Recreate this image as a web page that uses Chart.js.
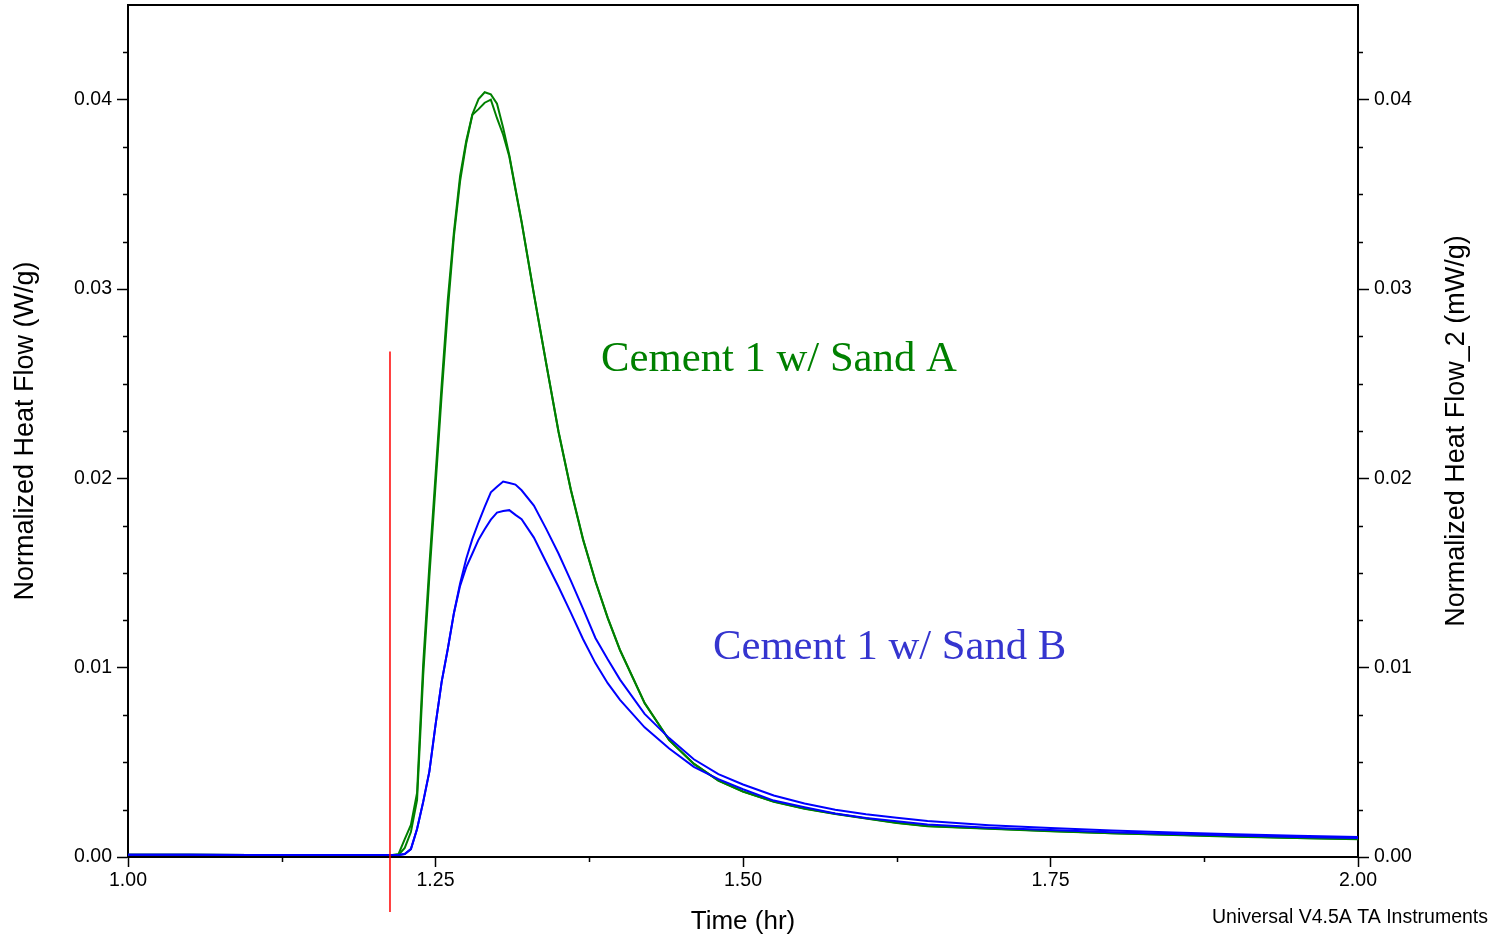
<!DOCTYPE html>
<html>
<head>
<meta charset="utf-8">
<script src="https://cdn.jsdelivr.net/npm/chart.js@4.4.0/dist/chart.umd.min.js"></script>
<style>
  html, body { margin: 0; padding: 0; background: #fff; }
</style>
</head>
<body>
<canvas id="heat-flow-chart" width="1493" height="938"></canvas>
<script>
// sample times (hr) shared by all four runs
const timeHr = [
  1.00, 1.05, 1.10, 1.15, 1.20, 1.215, 1.22, 1.225, 1.23, 1.235,
  1.24, 1.245, 1.25, 1.255, 1.26, 1.265, 1.27, 1.275, 1.28, 1.285,
  1.29, 1.295, 1.30, 1.305, 1.31, 1.315, 1.32, 1.33, 1.34, 1.35,
  1.36, 1.37, 1.38, 1.39, 1.40, 1.42, 1.44, 1.46, 1.48, 1.50,
  1.525, 1.55, 1.575, 1.60, 1.625, 1.65, 1.70, 1.75, 1.80, 1.85,
  1.90, 1.95, 2.00
];

// Cement 1 w/ Sand A, two runs (W/g)
const sandA1 = [
  0.00012, 0.00012, 0.00011, 0.00010, 0.00010, 0.00010, 0.00016, 0.00094, 0.00169, 0.00338,
  0.01020, 0.01538, 0.02013, 0.02492, 0.02943, 0.03303, 0.03598, 0.03783, 0.03923, 0.04003,
  0.04039, 0.04028, 0.03979, 0.03852, 0.03707, 0.03531, 0.03357, 0.02975, 0.02608, 0.02249,
  0.01942, 0.01678, 0.01458, 0.01264, 0.01094, 0.00814, 0.00618, 0.00493, 0.00404, 0.00346,
  0.00293, 0.00256, 0.00228, 0.00204, 0.00181, 0.00164, 0.00150, 0.00137, 0.00126, 0.00117,
  0.00109, 0.00101, 0.00095
];
const sandA2 = [
  0.00012, 0.00012, 0.00011, 0.00010, 0.00010, 0.00010, 0.00012, 0.00048, 0.00132, 0.00300,
  0.00960, 0.01480, 0.01960, 0.02440, 0.02890, 0.03280, 0.03570, 0.03770, 0.03920, 0.03950,
  0.03984, 0.04000, 0.03902, 0.03815, 0.03700, 0.03525, 0.03352, 0.02972, 0.02605, 0.02245,
  0.01938, 0.01675, 0.01455, 0.01262, 0.01092, 0.00812, 0.00617, 0.00492, 0.00403, 0.00345,
  0.00292, 0.00255, 0.00227, 0.00203, 0.00180, 0.00163, 0.00149, 0.00136, 0.00125, 0.00116,
  0.00107, 0.00100, 0.00094
];

// Cement 1 w/ Sand B, two runs (W/g)
const sandB1 = [
  0.00012, 0.00012, 0.00011, 0.00011, 0.00010, 0.00010, 0.00010, 0.00016, 0.00042, 0.00148,
  0.00291, 0.00451, 0.00697, 0.00925, 0.01099, 0.01289, 0.01445, 0.01575, 0.01680, 0.01768,
  0.01849, 0.01926, 0.01955, 0.01983, 0.01975, 0.01967, 0.01937, 0.01856, 0.01733, 0.01603,
  0.01460, 0.01310, 0.01157, 0.01044, 0.00937, 0.00756, 0.00628, 0.00516, 0.00438, 0.00383,
  0.00325, 0.00283, 0.00250, 0.00226, 0.00207, 0.00190, 0.00168, 0.00153, 0.00140, 0.00129,
  0.00120, 0.00112, 0.00106
];
const sandB2 = [
  0.00012, 0.00012, 0.00011, 0.00011, 0.00010, 0.00010, 0.00010, 0.00016, 0.00042, 0.00148,
  0.00291, 0.00451, 0.00697, 0.00925, 0.01099, 0.01289, 0.01432, 0.01531, 0.01603, 0.01676,
  0.01731, 0.01782, 0.01819, 0.01827, 0.01832, 0.01807, 0.01784, 0.01687, 0.01557, 0.01427,
  0.01291, 0.01150, 0.01024, 0.00918, 0.00830, 0.00685, 0.00573, 0.00476, 0.00411, 0.00358,
  0.00298, 0.00263, 0.00230, 0.00206, 0.00189, 0.00172, 0.00154, 0.00142, 0.00131, 0.00122,
  0.00114, 0.00106, 0.00100
];

// red marker line
const markerTime = [1.213, 1.213];
const markerFlow = [-0.0029, 0.0267];

// axis ranges / ticks
const xTicks = [1.00, 1.25, 1.50, 1.75, 2.00];
const yTicks = [0.00, 0.01, 0.02, 0.03, 0.04];
const yMax = 0.045;

const seriesLabels = ['Cement 1 w/ Sand A', 'Cement 1 w/ Sand B'];

const GREEN = '#008000';
const BLUE = '#0000ff';
const SANS = '"Liberation Sans", Arial, sans-serif';
const SERIF = '"Liberation Serif", "Times New Roman", serif';

const toPoints = (xs, ys) => xs.map((x, i) => ({ x, y: ys[i] }));

// minor ticks, box top edge and all free text
const decorations = {
  id: 'decorations',
  afterDraw(chart) {
    const { ctx, chartArea: a, scales: { x, y } } = chart;
    ctx.save();
    ctx.strokeStyle = '#000';
    ctx.lineWidth = 1.5;
    ctx.beginPath();
    for (let v = 0.0025; v < yMax; v += 0.0025) {
      if (Math.abs(v * 100 - Math.round(v * 100)) < 1e-6) continue;
      const py = Math.round(y.getPixelForValue(v)) + 0.5;
      ctx.moveTo(a.left - 5, py); ctx.lineTo(a.left, py);
      ctx.moveTo(a.right, py); ctx.lineTo(a.right + 5, py);
    }
    for (let t = 1.125; t < 2; t += 0.25) {
      const px = Math.round(x.getPixelForValue(t)) + 0.5;
      ctx.moveTo(px, a.bottom); ctx.lineTo(px, a.bottom + 5);
    }
    ctx.stroke();

    ctx.lineWidth = 2;
    ctx.beginPath();
    ctx.moveTo(a.left, a.top); ctx.lineTo(a.right, a.top);
    ctx.stroke();

    // axis titles
    ctx.fillStyle = '#000';
    ctx.textAlign = 'center';
    ctx.textBaseline = 'middle';
    ctx.font = '27px ' + SANS;
    ctx.save();
    ctx.translate(26, (a.top + a.bottom) / 2);
    ctx.rotate(-Math.PI / 2);
    ctx.fillText('Normalized Heat Flow (W/g)', 0, 0);
    ctx.restore();
    ctx.save();
    ctx.translate(1457, (a.top + a.bottom) / 2);
    ctx.rotate(-Math.PI / 2);
    ctx.fillText('Normalized Heat Flow_2 (mW/g)', 0, 0);
    ctx.restore();
    ctx.font = '26px ' + SANS;
    ctx.fillText('Time (hr)', (a.left + a.right) / 2, 922);

    ctx.font = '19.5px ' + SANS;
    ctx.textAlign = 'right';
    ctx.fillText('Universal V4.5A TA Instruments', 1488, 918);

    // curve labels, anchored in data units
    ctx.font = '42.7px ' + SERIF;
    ctx.textAlign = 'left';
    ctx.textBaseline = 'alphabetic';
    ctx.fillStyle = GREEN;
    ctx.fillText(seriesLabels[0], x.getPixelForValue(1.3846), y.getPixelForValue(0.02568));
    ctx.fillStyle = '#3535cf';
    ctx.fillText(seriesLabels[1], x.getPixelForValue(1.4756), y.getPixelForValue(0.01046));
    ctx.restore();
  }
};

function lineSet(label, xs, ys, color, width) {
  return {
    label,
    data: toPoints(xs, ys),
    borderColor: color,
    borderWidth: width,
    pointRadius: 0,
    tension: 0,
    fill: false
  };
}

const yTickCommon = {
  min: 0,
  max: yMax,
  afterBuildTicks: scale => { scale.ticks = yTicks.map(v => ({ value: v })); },
  ticks: {
    callback: v => v.toFixed(2),
    color: '#000',
    padding: 5,
    font: { family: SANS, size: 19.5 }
  },
  grid: { drawOnChartArea: false, tickLength: 11, tickColor: '#000', tickWidth: 1.5 },
  border: { display: true, color: '#000', width: 2 }
};

const ctx = document.getElementById('heat-flow-chart').getContext('2d');
new Chart(ctx, {
  type: 'line',
  data: {
    datasets: [
      Object.assign(lineSet('marker', markerTime, markerFlow, '#ff0000', 1.5), { clip: false }),
      lineSet(seriesLabels[1] + ' (1)', timeHr, sandB1, BLUE, 2),
      lineSet(seriesLabels[1] + ' (2)', timeHr, sandB2, BLUE, 2),
      lineSet(seriesLabels[0] + ' (1)', timeHr, sandA1, GREEN, 2),
      lineSet(seriesLabels[0] + ' (2)', timeHr, sandA2, GREEN, 2)
    ]
  },
  options: {
    responsive: false,
    animation: false,
    layout: { padding: { top: 5, left: 0, right: 0, bottom: 0 } },
    plugins: {
      legend: { display: false },
      tooltip: { enabled: false }
    },
    scales: {
      x: {
        type: 'linear',
        position: 'bottom',
        min: 1,
        max: 2,
        afterBuildTicks: scale => { scale.ticks = xTicks.map(v => ({ value: v })); },
        afterFit: scale => { scale.height = 81; scale.paddingLeft = 0; scale.paddingRight = 0; },
        ticks: {
          callback: v => v.toFixed(2),
          color: '#000',
          padding: 2,
          maxRotation: 0,
          font: { family: SANS, size: 19.5 }
        },
        grid: { drawOnChartArea: false, tickLength: 10, tickColor: '#000', tickWidth: 1.5 },
        border: { display: true, color: '#000', width: 2 }
      },
      y: Object.assign({}, yTickCommon, {
        position: 'left',
        afterFit: scale => { scale.width = 128; scale.paddingTop = 0; scale.paddingBottom = 0; }
      }),
      y2: Object.assign({}, yTickCommon, {
        position: 'right',
        afterFit: scale => { scale.width = 135; scale.paddingTop = 0; scale.paddingBottom = 0; }
      })
    }
  },
  plugins: [decorations]
});
</script>
</body>
</html>
